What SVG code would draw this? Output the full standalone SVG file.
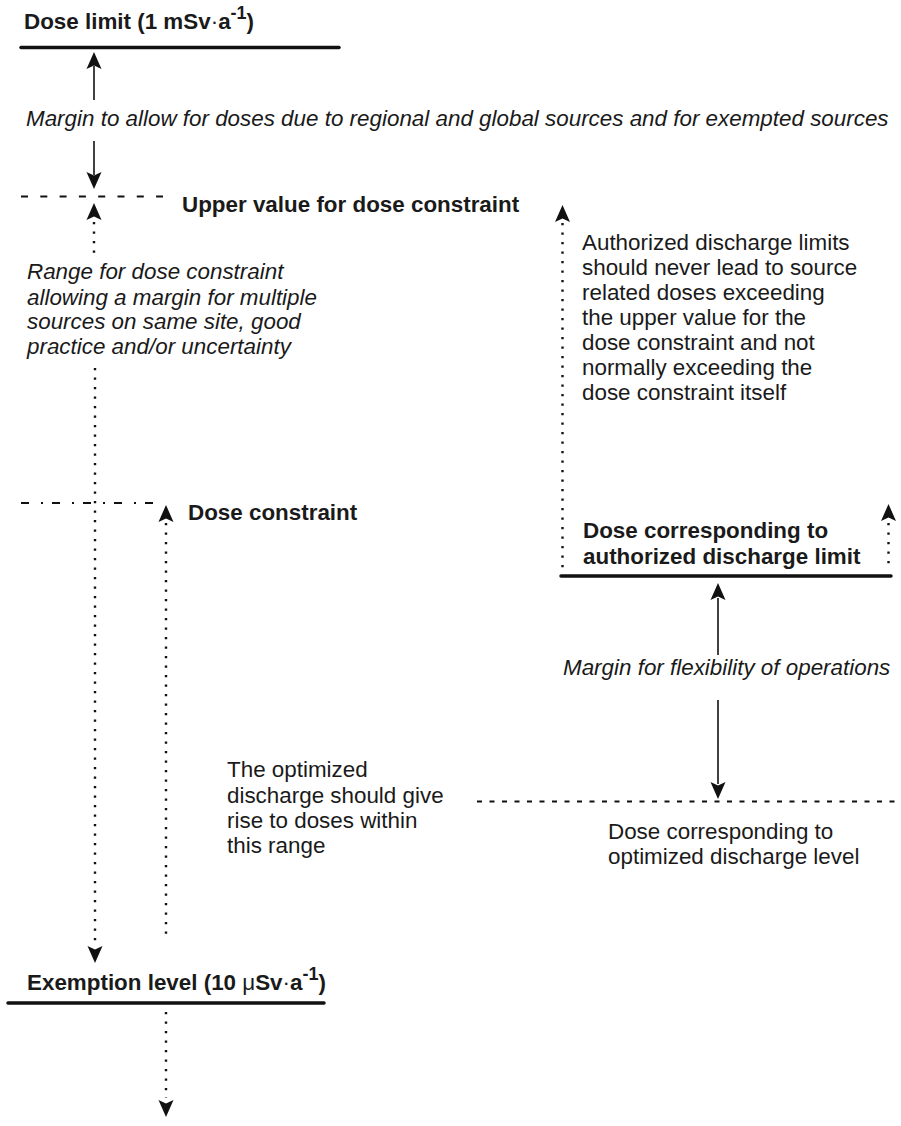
<svg xmlns="http://www.w3.org/2000/svg" width="901" height="1126" viewBox="0 0 901 1126">
<style>
text{font-family:"Liberation Sans",Arial,sans-serif;font-size:22.4px;fill:#1a1a1a}
.b{font-weight:bold}
.i{font-style:italic}
.thick{stroke:#111;stroke-width:3.5;stroke-linecap:round;fill:none}
.solid{stroke:#111;stroke-width:1.6;fill:none}
.dot{stroke:#111;stroke-width:2.4;stroke-dasharray:2.2 7.3;fill:none}
.dash{stroke:#111;stroke-width:1.8;stroke-dasharray:7 12.3;fill:none}
.dash2{stroke:#111;stroke-width:1.8;stroke-dasharray:5 7.5;fill:none}
.dashdot{stroke:#111;stroke-width:1.8;stroke-dasharray:8 12 2 9;fill:none}
.sup{font-size:18px}
</style>
<defs>
<path id="ah" d="M0,0 L-7.5,17 L0,13.5 L7.5,17 Z" fill="#111"/>
</defs>
<rect width="901" height="1126" fill="#fff"/>

<g id="dose-limit">
<text class="b" x="24" y="29">Dose limit (1 mSv<tspan font-weight="normal">·</tspan>a<tspan class="sup" dy="-10">-1</tspan><tspan dy="10">)</tspan></text>
<line class="thick" x1="21" y1="47.5" x2="339" y2="47.5"/>
</g>

<g id="margin-regional">
<text class="i" x="26" y="126">Margin to allow for doses due to regional and global sources and for exempted sources</text>
</g>

<g id="upper-value">
<line class="dash" x1="21" y1="196.5" x2="163" y2="196.5"/>
<text class="b" x="182" y="212">Upper value for dose constraint</text>
</g>

<g id="range-dose-constraint">
<text class="i" x="27" y="279">Range for dose constraint</text>
<text class="i" x="27" y="304.5">allowing a margin for multiple</text>
<text class="i" x="27" y="329">sources on same site, good</text>
<text class="i" x="27" y="353.5">practice and/or uncertainty</text>
</g>

<g id="dose-constraint">
<line class="dashdot" x1="21" y1="503" x2="153" y2="503"/>
<text class="b" x="188" y="520">Dose constraint</text>
</g>

<g id="authorized-note">
<text x="582" y="250">Authorized discharge limits</text>
<text x="582" y="275">should never lead to source</text>
<text x="582" y="300">related doses exceeding</text>
<text x="582" y="325">the upper value for the</text>
<text x="582" y="350">dose constraint and not</text>
<text x="582" y="375">normally exceeding the</text>
<text x="582" y="400">dose constraint itself</text>
</g>

<g id="authorized-limit">
<text class="b" x="583" y="538">Dose corresponding to</text>
<text class="b" x="583" y="564">authorized discharge limit</text>
<line class="thick" x1="561" y1="576" x2="891" y2="576"/>
</g>

<g id="margin-flexibility">
<text class="i" x="563" y="675">Margin for flexibility of operations</text>
</g>

<g id="optimized-range-note">
<text x="227" y="777">The optimized</text>
<text x="227" y="802.5">discharge should give</text>
<text x="227" y="827.5">rise to doses within</text>
<text x="227" y="852.5">this range</text>
</g>

<g id="optimized-level">
<line class="dash2" x1="477" y1="801.5" x2="900" y2="801.5"/>
<text x="608" y="839">Dose corresponding to</text>
<text x="608" y="864">optimized discharge level</text>
</g>

<g id="exemption-level">
<text class="b" x="27" y="990">Exemption level (10 <tspan font-weight="normal">μ</tspan>Sv<tspan font-weight="normal">·</tspan>a<tspan class="sup" dy="-10">-1</tspan><tspan dy="10">)</tspan></text>
<line class="thick" x1="8" y1="1003" x2="324" y2="1003"/>
</g>

<g id="connectors">
<line class="solid" x1="94" y1="66" x2="94" y2="100"/>
<use href="#ah" transform="translate(94,52)"/>
<line class="solid" x1="94" y1="141" x2="94" y2="175"/>
<use href="#ah" transform="translate(94,189) rotate(180)"/>
<use href="#ah" transform="translate(94,203)"/>
<line class="dot" x1="94" y1="222" x2="94" y2="258"/>
<line class="dot" x1="95" y1="368" x2="95" y2="946"/>
<use href="#ah" transform="translate(95,963) rotate(180)"/>
<use href="#ah" transform="translate(166,505)"/>
<line class="dot" x1="166" y1="523" x2="166" y2="938"/>
<line class="dot" x1="166" y1="1012" x2="166" y2="1098"/>
<use href="#ah" transform="translate(166,1117) rotate(180)"/>
<use href="#ah" transform="translate(562.5,205)"/>
<line class="dot" x1="562.5" y1="223" x2="562.5" y2="568"/>
<use href="#ah" transform="translate(888.5,504)"/>
<line class="dot" x1="888.5" y1="523" x2="888.5" y2="568"/>
<line class="solid" x1="718" y1="598" x2="718" y2="655"/>
<use href="#ah" transform="translate(718,583)"/>
<line class="solid" x1="718" y1="700" x2="718" y2="784"/>
<use href="#ah" transform="translate(718,799) rotate(180)"/>
</g>
</svg>
